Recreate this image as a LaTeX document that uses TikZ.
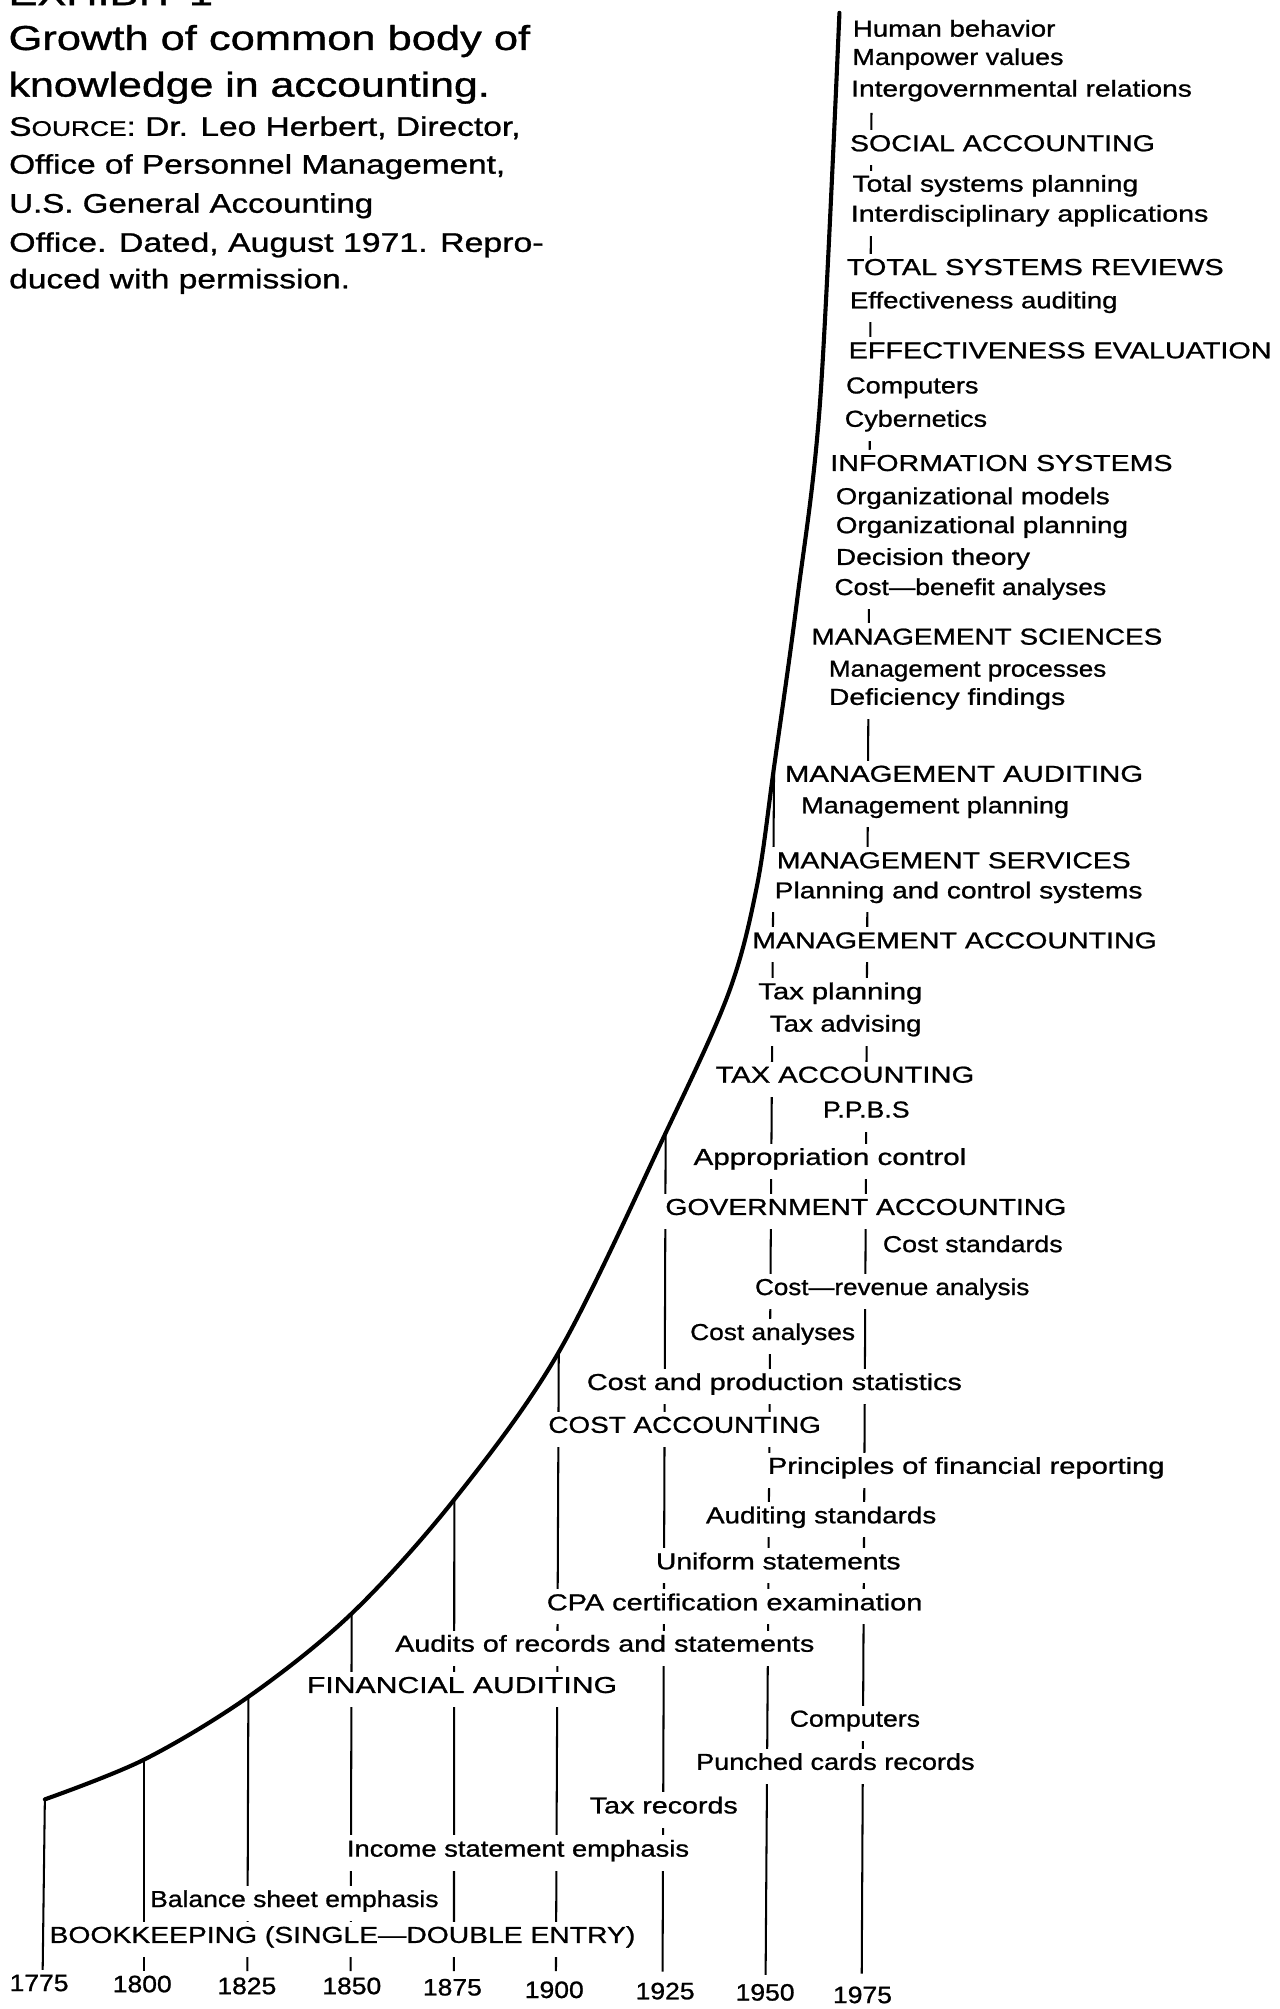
\documentclass[tikz,border=0pt]{standalone}
\usepackage{fontspec}
\usepackage{graphicx}
\setmainfont{Liberation Sans}[FakeBold=0.9]
\pgfdeclarelayer{bg}
\pgfsetlayers{bg,main}

% label: [options]{name}{left edge of text}{baseline}{text width}{text}
\newcommand\lbl[6][]{%
  \node[lab,#1] (#2) at ({#3-1},#4) {\resizebox{#5pt}{\height}{#6}};}
% heading line: {name}{left}{baseline}{width}{style}{text}
\newcommand\headline[6]{%
  \node[#5] (#1) at (#2,#3) {\resizebox{#4pt}{\height}{#6}};}
% year under a vertical line: {name}{centre}{baseline}{text}
\newcommand\yearlbl[4]{%
  \node[yr] (#1) at (#2,#3) {\resizebox{46pt}{\height}{#4}};}

\begin{document}
\begin{tikzpicture}[x=1pt,y=-1pt,
  lab/.style={font=\fontsize{18}{20}\selectfont, fill=white, inner xsep=1pt,
    inner ysep=3.5pt, text height=13pt, text depth=7.5pt, anchor=base west},
  ttl/.style={font=\fontsize{27}{30}\selectfont, inner sep=0pt, anchor=base west},
  src/.style={font=\fontsize{21}{24}\selectfont, inner sep=0pt, anchor=base west},
  yr/.style={font=\fontsize{18.5}{20}\selectfont, inner sep=0pt, anchor=base},
  growth/.style={line width=3.2pt, line cap=round, line join=round},
  vline/.style={line width=1.6pt}]

\useasboundingbox (0,0) rectangle (998,1567.6);
\begin{pgfonlayer}{bg}
  \fill[white] (0,0) rectangle (998,1567.6);
\end{pgfonlayer}

% ---- heading block ----
\headline{exh}{6.5}{4}{159.5}{ttl}{EXHIBIT 1}
\headline{t1}{6.5}{39}{407}{ttl}{Growth of common body of}
\headline{t2}{6.5}{75.4}{375.5}{ttl}{knowledge in accounting.}
\headline{s1}{7}{106}{399}{src}{S{\fontsize{16.5}{20}\selectfont OURCE}: Dr. Leo Herbert, Director,}
\headline{s2}{7}{135.5}{387}{src}{Office of Personnel Management,}
\headline{s3}{7}{166}{284}{src}{U.S. General Accounting}
\headline{s4}{7}{196.5}{417}{src}{Office. Dated, August 1971. Repro-}
\headline{s5}{7}{225}{266}{src}{duced with permission.}

% ---- fields of knowledge, top to bottom ----
\lbl{n01}{665.3}{28.6}{158}{Human behavior}
\lbl{n02}{665}{50.7}{164.7}{Manpower values}
\lbl{n03}{664}{75.4}{265.8}{Intergovernmental relations}
\lbl{n04}{663}{118}{238}{SOCIAL ACCOUNTING}
\lbl{n05}{665}{149.6}{223}{Total systems planning}
\lbl{n06}{663.7}{173}{279}{Interdisciplinary applications}
\lbl{n07}{660.6}{214.6}{294}{TOTAL SYSTEMS REVIEWS}
\lbl{n08}{663}{240.6}{208.8}{Effectiveness auditing}
\lbl{n09}{662}{279.6}{330}{EFFECTIVENESS EVALUATION}
\lbl{n10}{660}{307}{103.3}{Computers}
\lbl{n11}{659}{333}{111}{Cybernetics}
\lbl{n12}{647.7}{367.5}{267}{INFORMATION SYSTEMS}
\lbl{n13}{652}{393.4}{213.7}{Organizational models}
\lbl{n14}{652}{416}{228}{Organizational planning}
\lbl{n15}{652}{440.8}{151.5}{Decision theory}
\lbl{n16}{651}{464.3}{212}{Cost—benefit analyses}
\lbl{n17}{633}{503}{273.7}{MANAGEMENT SCIENCES}
\lbl{n18}{646.6}{528}{216.4}{Management processes}
\lbl{n19}{646.6}{550}{184.4}{Deficiency findings}
\lbl{n20}{612.3}{610}{279.5}{MANAGEMENT AUDITING}
\lbl{n21}{625}{634.6}{209}{Management planning}
\lbl[inner xsep=7pt,xshift=-6pt]{n22}{606}{677.5}{276}{MANAGEMENT SERVICES}
\lbl[inner xsep=7pt,xshift=-6pt]{n23}{604.3}{701}{287}{Planning and control systems}
\lbl{n24}{586.8}{740}{315.7}{MANAGEMENT ACCOUNTING}
\lbl{n25}{591.5}{779.7}{128}{Tax planning}
\lbl{n26}{600.5}{805}{118.3}{Tax advising}
\lbl{n27}{558.2}{844.8}{201.8}{TAX ACCOUNTING}
\lbl{n28}{642}{872}{67.5}{P.P.B.S}
\lbl{n29}{541}{909}{212.8}{Appropriation control}
\lbl{n30}{519}{948}{312.8}{GOVERNMENT ACCOUNTING}
\lbl{n31}{688.7}{977}{140.3}{Cost standards}
\lbl{n32}{589}{1010.5}{214}{Cost—revenue analysis}
\lbl{n33}{538.4}{1045.6}{128.6}{Cost analyses}
\lbl{n34}{457.8}{1084.6}{292.5}{Cost and production statistics}
\lbl{n35}{427.7}{1118}{212.6}{COST ACCOUNTING}
\lbl{n36}{599}{1150}{309.5}{Principles of financial reporting}
\lbl{n37}{550.7}{1188.6}{179.7}{Auditing standards}
\lbl{n38}{511.7}{1224.5}{190.8}{Uniform statements}
\lbl{n39}{426.5}{1256.5}{293}{CPA certification examination}
\lbl{n40}{308.2}{1288.8}{327}{Audits of records and statements}
\lbl{n41}{239.3}{1321}{242}{FINANCIAL AUDITING}
\lbl{n42}{616}{1347.3}{101.7}{Computers}
\lbl{n43}{543}{1381}{217.3}{Punched cards records}
\lbl{n44}{460}{1415}{115.5}{Tax records}
\lbl{n45}{270.5}{1448.7}{267}{Income statement emphasis}
\lbl{n46}{117}{1488}{225}{Balance sheet emphasis}
\lbl{n47}{38.5}{1516}{457}{BOOKKEEPING (SINGLE—DOUBLE ENTRY)}

% ---- time axis ----
\yearlbl{y1775}{30.5}{1553.6}{1775}
\yearlbl{y1800}{111}{1554.5}{1800}
\yearlbl{y1825}{192.6}{1556}{1825}
\yearlbl{y1850}{274.5}{1556}{1850}
\yearlbl{y1875}{353}{1557}{1875}
\yearlbl{y1900}{432.5}{1559}{1900}
\yearlbl{y1925}{519}{1560}{1925}
\yearlbl{y1950}{597}{1561}{1950}
\yearlbl{y1975}{673}{1563}{1975}

% points where each period line leaves the growth curve
\coordinate (c1775) at (35,1404);
\coordinate (c1800) at (112.4,1373);
\coordinate (c1825) at (193.8,1324);
\coordinate (c1850) at (274.4,1259);
\coordinate (c1875) at (354.5,1170);
\coordinate (c1900) at (436,1055);
\coordinate (c1925) at (519.4,884);
\coordinate (c1950) at (604,598.3);
\coordinate (c1975) at (680,88);
% lower ends, just above the years
\coordinate (b1775) at (33.3,1537);
\coordinate (b1800) at (112.4,1538);
\coordinate (b1825) at (193,1538);
\coordinate (b1850) at (273.6,1538);
\coordinate (b1875) at (354.2,1538);
\coordinate (b1900) at (433.8,1538);
\coordinate (b1925) at (517,1538.5);
\coordinate (b1950) at (597.4,1541);
\coordinate (b1975) at (672.4,1540);

\begin{pgfonlayer}{bg}
  \foreach \yr in {1775,1800,1825,1850,1875,1900,1925,1950,1975}
    \draw[vline] (c\yr) -- (b\yr);
\end{pgfonlayer}

% growth curve of the body of knowledge
\draw[growth] plot[smooth, tension=0.55] coordinates {
  (c1775) (c1800) (c1825) (c1850) (c1875) (c1900) (c1925)
  (568.4,775.2) (590.5,692) (c1950) (622,468) (640,312) (655,10)};
\end{tikzpicture}
\end{document}
